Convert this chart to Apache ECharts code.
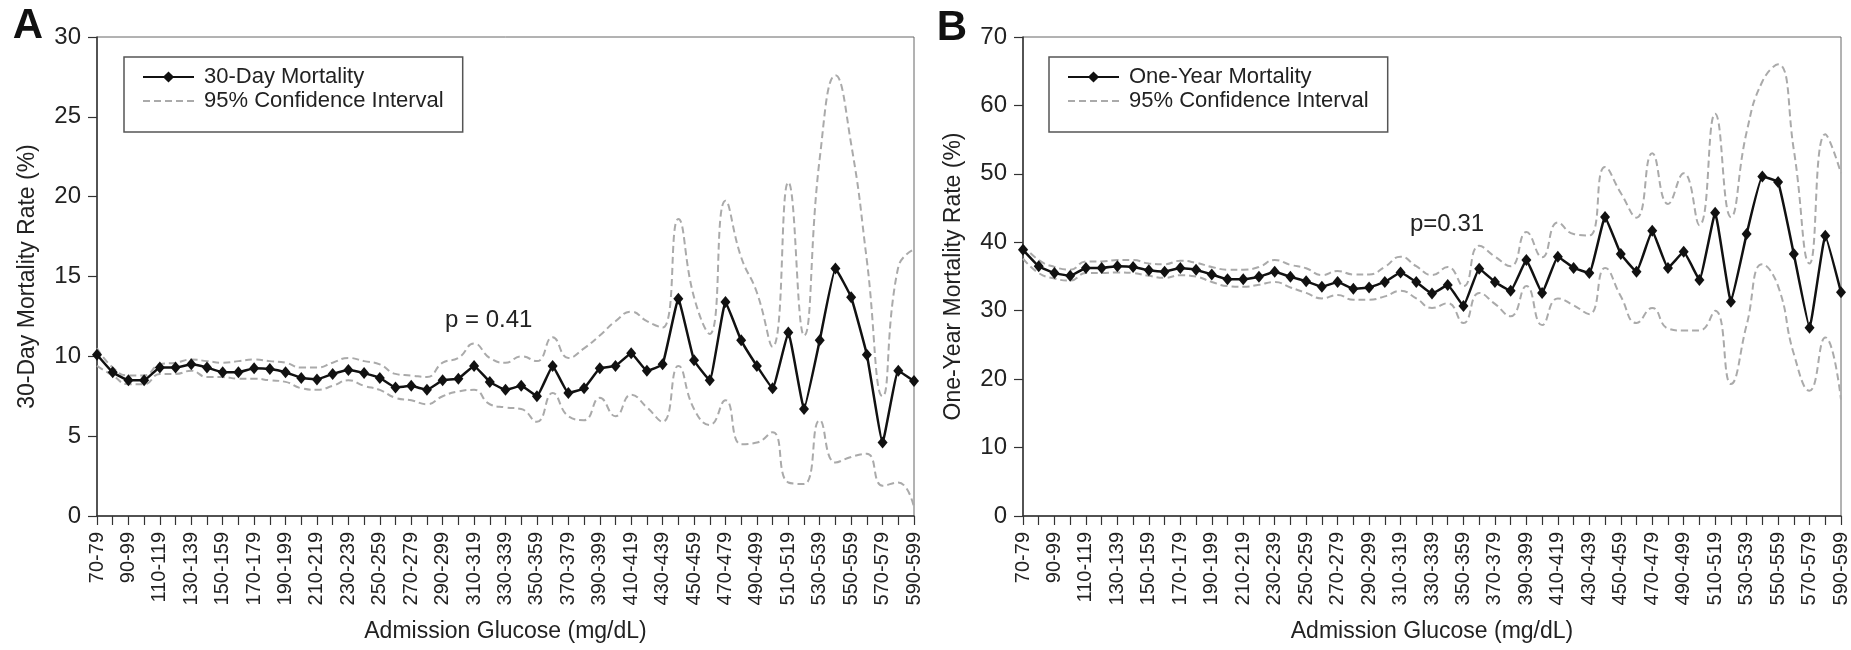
<!DOCTYPE html>
<html>
<head>
<meta charset="utf-8">
<script src="https://cdn.jsdelivr.net/npm/echarts@6/dist/echarts.min.js"></script>
<style>
html,body{margin:0;padding:0;background:#fff;}
#chart{width:1851px;height:650px;}
</style>
</head>
<body>
<div id="chart"></div>
<script>
var categories = ['70-79','80-89','90-99','100-109','110-119','120-129','130-139','140-149','150-159','160-169',
'170-179','180-189','190-199','200-209','210-219','220-229','230-239','240-249','250-259','260-269',
'270-279','280-289','290-299','300-309','310-319','320-329','330-339','340-349','350-359','360-369',
'370-379','380-389','390-399','400-409','410-419','420-429','430-439','440-449','450-459','460-469',
'470-479','480-489','490-499','500-509','510-519','520-529','530-539','540-549','550-559','560-569',
'570-579','580-589','590-599'];

var mort30 = [10.1,9.0,8.5,8.5,9.3,9.3,9.5,9.3,9.0,9.0,
9.25,9.2,9.0,8.65,8.55,8.9,9.15,8.95,8.65,8.05,
8.15,7.9,8.5,8.6,9.4,8.4,7.9,8.15,7.5,9.4,
7.7,8.0,9.25,9.4,10.2,9.1,9.5,13.6,9.75,8.5,
13.4,11.0,9.4,8.0,11.5,6.7,11.0,15.5,13.7,10.1,
4.6,9.1,8.45];
var mort30Upper = [10.5,9.3,8.8,8.8,9.5,9.6,9.8,9.7,9.6,9.7,
9.8,9.7,9.6,9.3,9.3,9.6,9.9,9.7,9.5,8.9,
8.8,8.7,9.6,9.9,10.8,9.9,9.6,10.0,9.7,11.2,
9.9,10.5,11.3,12.2,12.8,12.2,11.8,18.6,13.7,11.4,
19.75,16.2,14.0,10.6,20.9,11.3,22.4,27.6,23.3,16.0,
7.5,15.6,16.7];
var mort30Lower = [9.4,8.8,8.25,8.25,8.9,8.9,9.1,8.7,8.7,8.6,
8.6,8.5,8.4,8.0,7.9,8.15,8.5,8.15,7.9,7.4,
7.25,7.0,7.5,7.8,7.9,7.0,6.8,6.7,5.9,7.7,
6.25,6.0,7.4,6.25,7.6,6.8,5.9,9.4,6.7,5.7,
7.25,4.5,4.6,5.25,2.1,2.0,6.0,3.35,3.7,3.9,
1.9,2.1,0.55];

var mort1y = [38.9,36.5,35.5,35.1,36.25,36.25,36.5,36.4,35.9,35.7,
36.25,36.0,35.3,34.6,34.6,34.95,35.7,34.95,34.3,33.5,
34.2,33.2,33.4,34.2,35.6,34.2,32.5,33.75,30.7,36.15,
34.2,32.9,37.4,32.6,37.9,36.25,35.5,43.7,38.3,35.7,
41.7,36.25,38.6,34.5,44.3,31.3,41.2,49.6,48.8,38.3,
27.5,40.95,32.7];
var mort1yUpper = [39.6,37.4,36.4,36.0,37.2,37.2,37.4,37.4,36.9,36.8,
37.3,37.0,36.4,36.0,36.0,36.4,37.4,36.7,36.2,35.2,
35.8,35.3,35.3,36.4,37.9,36.5,35.2,36.4,33.6,39.5,
37.9,36.5,41.5,37.8,42.9,41.2,41.0,51.0,47.2,43.6,
53.0,45.6,50.1,42.5,58.8,43.7,56.1,63.5,66.0,53.5,
36.9,55.8,50.1];
var mort1yLower = [37.6,35.5,34.7,34.4,35.5,35.5,35.6,35.5,35.1,34.8,
35.2,35.0,34.2,33.6,33.5,33.8,34.2,33.4,32.6,31.8,
32.3,31.6,31.6,32.1,32.9,31.8,30.4,31.1,28.2,32.6,
31.0,29.2,33.6,27.9,31.8,30.8,29.5,36.25,32.1,28.2,
30.4,27.4,27.1,27.1,30.0,19.3,27.9,36.8,33.6,23.7,
18.3,26.1,17.0];

var FONT = "'Liberation Sans', Arial, Helvetica, sans-serif";
var TXT = '#222';

function xAxisCfg(gi){
  return {
    type:'category', gridIndex:gi, data:categories, boundaryGap:false,
    axisLine:{show:true, lineStyle:{color:'#333', width:1.5}},
    axisTick:{show:true, interval:0, length:9, lineStyle:{color:'#333', width:1.2}},
    axisLabel:{interval:1, rotate:90, fontSize:20, color:TXT, fontFamily:FONT, margin:16},
    splitLine:{show:false},
    name:'Admission Glucose (mg/dL)', nameLocation:'middle', nameGap:104,
    nameTextStyle:{fontSize:23, color:TXT, fontFamily:FONT}
  };
}
function yAxisCfg(gi, max, interval, name){
  return {
    type:'value', gridIndex:gi, min:0, max:max, interval:interval,
    axisLine:{show:true, lineStyle:{color:'#333', width:1.5}},
    axisTick:{show:true, length:9, lineStyle:{color:'#333', width:1.2}},
    axisLabel:{fontSize:24, color:TXT, fontFamily:FONT, margin:16},
    splitLine:{show:false},
    name:name, nameLocation:'middle', nameRotate:90, nameGap:58,
    nameTextStyle:{fontSize:23, color:TXT, fontFamily:FONT}
  };
}
function mainSeries(name, data, gi){
  return {type:'line', name:name, data:data, xAxisIndex:gi, yAxisIndex:gi,
    symbol:'diamond', symbolSize:[10,12], showSymbol:true, showAllSymbol:true, smooth:0.1,
    lineStyle:{color:'#111', width:2.5}, itemStyle:{color:'#111'}, z:5, silent:true};
}
function ciSeries(data, gi){
  return {type:'line', name:'95% Confidence Interval', data:data, xAxisIndex:gi, yAxisIndex:gi,
    symbol:'none', smooth:0.5,
    lineStyle:{color:'#aaa', width:2, type:[7,4]}, itemStyle:{color:'#aaa'}, z:3, silent:true};
}
function legendCfg(left, mainName){
  return {
    left:left, top:57, orient:'vertical',
    data:[
      {name:mainName},
      {name:'95% Confidence Interval', itemStyle:{opacity:0, borderWidth:0}}
    ],
    backgroundColor:'#fff', borderColor:'#555', borderWidth:1.5, borderRadius:0,
    padding:[8,19,19,18], itemGap:0, itemWidth:51, itemHeight:14,
    textStyle:{fontSize:22, color:TXT, fontFamily:FONT, lineHeight:24, padding:[0,0,0,5]},
    selectedMode:false
  };
}

var chart = echarts.init(document.getElementById('chart'), null, {renderer:'canvas'});
chart.setOption({
  animation:false,
  backgroundColor:'#fff',
  grid:[
    {left:97, right:937, top:37, bottom:134, show:true, borderColor:'#666', borderWidth:1, backgroundColor:'transparent'},
    {left:1023, right:10, top:37, bottom:134, show:true, borderColor:'#666', borderWidth:1, backgroundColor:'transparent'}
  ],
  xAxis:[xAxisCfg(0), xAxisCfg(1)],
  yAxis:[yAxisCfg(0,30,5,'30-Day Mortality Rate (%)'), yAxisCfg(1,70,10,'One-Year Mortality Rate (%)')],
  legend:[
    legendCfg(124, '30-Day Mortality'),
    legendCfg(1049, 'One-Year Mortality')
  ],
  series:[
    ciSeries(mort30Upper,0), ciSeries(mort30Lower,0), mainSeries('30-Day Mortality', mort30, 0),
    ciSeries(mort1yUpper,1), ciSeries(mort1yLower,1), mainSeries('One-Year Mortality', mort1y, 1)
  ],
  graphic:[
    {type:'text', x:28, y:26, style:{text:'A', font:'bold 42px '+FONT, fill:'#111', align:'center', verticalAlign:'middle', textAlign:'center', textVerticalAlign:'middle'}},
    {type:'text', x:952, y:28, style:{text:'B', font:'bold 42px '+FONT, fill:'#111', align:'center', verticalAlign:'middle', textAlign:'center', textVerticalAlign:'middle'}},
    {type:'text', x:445, y:320, style:{text:'p = 0.41', font:'24px '+FONT, fill:TXT, align:'left', verticalAlign:'middle', textAlign:'left', textVerticalAlign:'middle'}},
    {type:'text', x:1410, y:224, style:{text:'p=0.31', font:'24px '+FONT, fill:TXT, align:'left', verticalAlign:'middle', textAlign:'left', textVerticalAlign:'middle'}}
  ]
});
</script>
</body>
</html>
